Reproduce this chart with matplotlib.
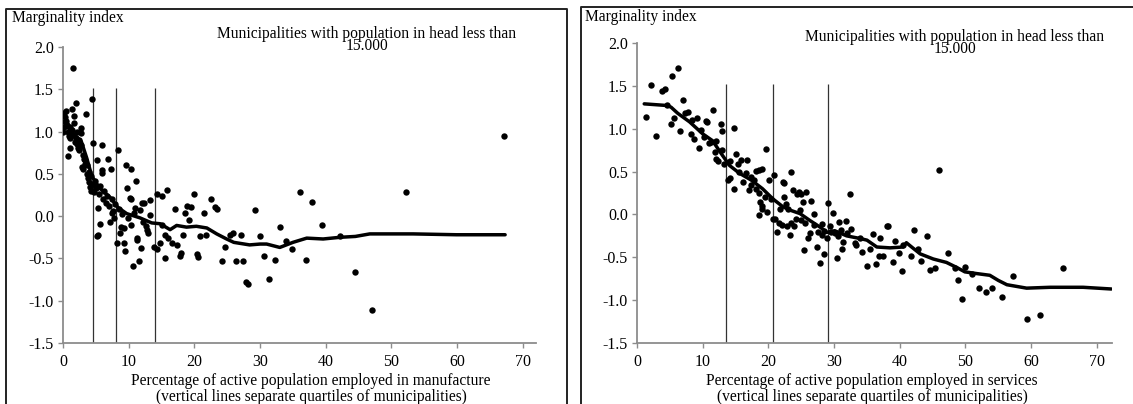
import matplotlib
matplotlib.use('Agg')
import matplotlib.pyplot as plt
from matplotlib.lines import Line2D

plt.rcParams['font.family'] = ['Liberation Serif', 'DejaVu Serif']

# ---- data: manufacture panel ----
manuf_x = [0.0, 0.2, 0.3, 0.4, 0.5, 0.2, 0.6, 0.7, 0.8, 0.9, 1.0, 1.0, 1.1, 1.3, 1.4, 1.5, 1.5, 1.6, 1.7, 1.8,
           2.0, 2.0, 2.1, 2.2, 2.3, 2.4, 2.5, 2.7, 2.8, 2.8, 2.9, 3.0, 3.1, 3.2, 3.3, 3.4, 3.5, 3.6, 3.7, 3.8,
           3.9, 4.0, 4.1, 4.2, 4.3, 4.4, 4.5, 4.6, 4.7, 4.8, 5.0, 5.1, 5.2, 5.3, 5.4, 5.5, 5.6, 5.7, 5.9, 5.9,
           6.0, 6.1, 6.3, 6.5, 6.7, 6.9, 7.0, 7.2, 7.3, 7.4, 7.5, 7.6, 7.7, 7.9, 8.2, 8.4, 8.5, 8.7, 8.8, 9.0,
           9.3, 9.3, 9.4, 9.6, 9.8, 9.9, 10.2, 10.3, 10.3, 10.4, 10.6, 10.8, 11.0, 11.1, 11.2, 11.5, 11.3, 11.7,
           11.8, 12.0, 12.2, 12.3, 12.7, 12.8, 12.9, 13.2, 13.3, 13.8, 14.3, 14.3, 14.7, 15.0, 15.0, 15.5, 15.6,
           15.9, 16.0, 16.6, 17.0, 17.3, 17.8, 18.0, 18.3, 18.6, 18.9, 19.2, 19.5, 20.0, 20.4, 20.6, 20.9, 21.4,
           21.8, 22.5, 23.1, 23.4, 24.2, 24.7, 25.4, 25.9, 26.4, 27.1, 27.4, 27.9, 28.2, 29.2, 30.0, 30.6, 31.4,
           32.3, 33.0, 33.9, 34.9, 36.1, 37.0, 37.9, 39.5, 42.1, 44.4, 47.0, 52.2, 67.2]
manuf_y = [1.0, 1.22, 1.17, 1.24, 1.13, 1.05, 1.08, 1.0, 0.71, 0.95, 0.81, 1.05, 0.92, 1.02, 1.27, 1.75, 0.96, 1.1,
           1.18, 0.88, 1.34, 0.92, 0.85, 1.0, 0.8, 0.9, 0.78, 1.04, 0.98, 0.84, 0.58, 0.72, 0.56, 0.68, 0.66, 0.62,
           1.21, 0.5, 0.6, 0.45, 0.52, 0.4, 0.34, 0.47, 0.3, 1.38, 0.86, 0.38, 0.28, 0.42, 0.33, -0.23, 0.66, -0.22,
           0.1, 0.26, -0.09, 0.36, 0.84, 0.55, 0.51, 0.2, 0.3, 0.16, 0.24, 0.68, 0.12, -0.07, 0.56, 0.04, 0.2, 0.06,
           -0.02, 0.14, -0.32, 0.78, 0.08, -0.2, -0.13, 0.02, -0.14, -0.32, -0.41, 0.61, 0.33, -0.02, 0.22, 0.56,
           -0.11, 0.2, -0.59, 0.04, 0.1, 0.41, -0.26, -0.53, -0.28, 0.07, -0.38, 0.16, -0.07, 0.15, -0.12, -0.16,
           -0.2, 0.19, 0.01, -0.37, 0.26, -0.39, -0.32, 0.24, -0.1, -0.49, -0.22, 0.31, -0.26, -0.32, 0.08, -0.34,
           -0.47, -0.43, -0.22, 0.04, 0.12, -0.05, 0.11, 0.26, -0.45, -0.48, -0.24, 0.04, -0.22, 0.2, 0.11, 0.09,
           -0.53, -0.37, -0.22, -0.2, -0.53, -0.22, -0.53, -0.78, -0.8, 0.07, -0.23, -0.47, -0.74, -0.52, -0.13,
           -0.29, -0.39, 0.28, -0.52, 0.17, -0.11, -0.24, -0.66, -1.11, 0.29, 0.95]
manuf_fit_x = [0, 1.5, 2.8, 3.6, 4.4, 5.6, 7.2, 8.4, 9.7, 11.7, 13.5, 14.8, 16.3, 17.3, 18.8, 20.3, 21.9, 23.4,
               24.9, 26.0, 28.4, 30.0, 31.0, 33.0, 35.0, 37.1, 39.6, 42.2, 44.5, 46.7, 53.3, 59.9, 67.3]
manuf_fit_y = [1.12, 0.98, 0.88, 0.69, 0.47, 0.33, 0.22, 0.1, 0.03, -0.02, -0.08, -0.09, -0.16, -0.11, -0.13,
               -0.12, -0.14, -0.21, -0.27, -0.31, -0.34, -0.33, -0.33, -0.37, -0.31, -0.26, -0.27, -0.25, -0.24,
               -0.21, -0.21, -0.22, -0.22]
manuf_quartiles = [4.6, 8.1, 14.0]

# ---- data: services panel ----
serv_x = [1.4, 2.2, 2.9, 3.8, 4.3, 4.5, 5.2, 5.4, 5.7, 6.3, 6.6, 7.0, 7.3, 7.7, 8.2, 8.4, 8.7, 9.2, 9.5, 9.8,
          10.2, 10.5, 10.6, 10.9, 11.3, 11.6, 11.8, 12.0, 12.1, 12.3, 12.8, 12.9, 13.0, 13.3, 13.8, 14.1, 14.2,
          14.7, 14.8, 15.1, 15.3, 15.5, 15.8, 16.2, 16.6, 16.8, 17.0, 17.3, 17.4, 17.8, 18.1, 18.1, 18.6, 18.6,
          18.5, 18.7, 19.0, 19.1, 19.1, 19.5, 19.7, 19.8, 20.1, 20.4, 20.7, 20.9, 21.0, 21.3, 21.6, 21.8, 22.0,
          22.2, 22.3, 22.4, 22.7, 22.8, 23.0, 23.3, 23.4, 23.5, 23.7, 23.9, 24.2, 24.4, 24.6, 24.8, 25.0, 25.0,
          25.3, 25.4, 25.6, 25.7, 26.0, 26.3, 26.5, 26.9, 27.0, 27.4, 27.5, 27.8, 28.1, 28.2, 28.4, 28.5, 28.9,
          29.0, 29.4, 29.6, 29.9, 30.2, 30.4, 30.6, 30.7, 31.0, 31.2, 31.4, 31.8, 32.0, 32.4, 32.5, 33.2, 33.3,
          33.9, 34.2, 35.0, 35.4, 35.9, 36.4, 36.8, 37.0, 37.4, 38.0, 38.2, 38.9, 39.3, 39.9, 40.4, 40.5, 41.7,
          42.1, 42.7, 43.3, 44.1, 44.6, 45.4, 46.0, 47.3, 48.4, 48.8, 49.4, 49.9, 51.0, 52.1, 53.1, 54.1, 55.6,
          57.3, 59.3, 61.3, 64.9]
serv_y = [1.14, 1.51, 0.91, 1.44, 1.46, 1.28, 1.05, 1.61, 1.12, 1.71, 0.97, 1.34, 1.18, 1.2, 0.94, 1.1, 0.88,
          1.13, 0.77, 0.98, 0.9, 1.09, 1.08, 0.83, 0.85, 1.22, 0.73, 0.65, 0.86, 0.62, 1.06, 0.97, 0.75, 0.59, 0.4,
          0.43, 0.62, 1.01, 0.3, 0.7, 0.59, 0.5, 0.64, 0.38, 0.48, 0.63, 0.28, 0.34, 0.44, 0.4, 0.51, 0.3, 0.52,
          0.25, -0.01, 0.15, 0.06, 0.53, 0.1, 0.2, 0.76, 0.03, 0.4, 0.18, -0.05, 0.46, -0.05, -0.2, -0.1, 0.06,
          -0.12, 0.38, 0.37, 0.2, 0.12, -0.14, 0.06, -0.24, 0.49, -0.1, 0.28, -0.13, -0.05, 0.24, 0.26, 0.05, 0.24,
          -0.06, 0.15, -0.41, -0.1, 0.26, -0.27, -0.22, 0.16, 0.0, -0.12, -0.38, -0.2, -0.57, -0.11, -0.24, -0.46,
          -0.19, -0.27, 0.13, -0.13, -0.2, 0.02, -0.22, -0.51, -0.25, -0.09, -0.18, -0.4, -0.32, -0.08, -0.22, 0.24,
          -0.17, -0.33, -0.36, -0.28, -0.44, -0.6, -0.4, -0.23, -0.58, -0.49, -0.28, -0.48, -0.13, -0.13, -0.56,
          -0.31, -0.45, -0.66, -0.36, -0.49, -0.18, -0.4, -0.54, -0.25, -0.65, -0.62, 0.52, -0.45, -0.62, -0.76,
          -0.99, -0.61, -0.7, -0.86, -0.9, -0.86, -0.96, -0.72, -1.22, -1.17, -0.63]
serv_fit_x = [1.1, 2.9, 4.7, 5.2, 6.2, 8.0, 10.0, 11.5, 13.0, 14.1, 15.6, 17.4, 19.1, 20.7, 22.2, 23.3, 24.8,
              26.3, 27.9, 28.9, 30.1, 31.9, 33.9, 35.0, 36.5, 38.5, 40.5, 41.0, 41.8, 43.1, 45.1, 47.1, 48.7,
              49.9, 51.7, 53.7, 55.0, 56.3, 59.3, 62.9, 67.9, 72.2]
serv_fit_y = [1.29, 1.28, 1.27, 1.25, 1.18, 1.08, 0.94, 0.86, 0.69, 0.57, 0.48, 0.4, 0.3, 0.18, 0.09, 0.05, 0.01,
              -0.07, -0.15, -0.21, -0.19, -0.25, -0.28, -0.3, -0.38, -0.39, -0.38, -0.33, -0.38, -0.46, -0.52,
              -0.56, -0.62, -0.67, -0.69, -0.71, -0.77, -0.82, -0.86, -0.85, -0.85, -0.87]
serv_quartiles = [13.6, 20.7, 29.1]

yticks = [-1.5, -1.0, -0.5, 0.0, 0.5, 1.0, 1.5, 2.0]
xticks = [0, 10, 20, 30, 40, 50, 60, 70]

W, H = 1133, 404
FS = 11.2
fig = plt.figure(figsize=(W / 100, H / 100), dpi=100)


def px(x, y):
    return x / W, 1 - y / H


def panel(rect, xs, ys, fx, fy, qs, xmax):
    ax = fig.add_axes(rect)
    ax.plot(xs, ys, 'o', color='black', ms=4.6, mec='none', zorder=3)
    ax.plot(fx, fy, color='black', lw=2.5, solid_capstyle='round', zorder=4)
    ax.vlines(qs, -1.5, 1.52, color='#333333', lw=0.9, zorder=2)
    ax.set_xlim(0, xmax)
    ax.set_ylim(-1.5, 2.0)
    ax.set_xticks(xticks)
    ax.set_yticks(yticks)
    ax.set_yticklabels([f'{v:.1f}' for v in yticks])
    for s in ['top', 'right']:
        ax.spines[s].set_visible(False)
    for s in ['left', 'bottom']:
        ax.spines[s].set_color('#8c8c8c')
        ax.spines[s].set_linewidth(1.3)
    ax.tick_params(colors='#8c8c8c', labelcolor='black', labelsize=11.5, length=3.5, width=1)
    ax.tick_params(axis='x', pad=4.5)
    ax.tick_params(axis='y', pad=3)
    ax.patch.set_visible(False)
    return ax


panel([63 / W, 1 - 343 / H, 473 / W, 296 / H], manuf_x, manuf_y, manuf_fit_x, manuf_fit_y,
      manuf_quartiles, 72)
panel([637 / W, 1 - 343 / H, 475 / W, 300 / H], serv_x, serv_y, serv_fit_x, serv_fit_y,
      serv_quartiles, 72.3)

# frames around each panel
frame_kw = dict(color='#222222', lw=1.4, transform=fig.transFigure)
for xs, ys in [([6, 6, 567, 567], [404, 9, 9, 404]), ([581, 581, 1133], [404, 7, 7])]:
    fx, fy = zip(*[px(a, b) for a, b in zip(xs, ys)])
    fig.add_artist(Line2D(fx, fy, **frame_kw))

# texts
tkw = dict(fontsize=FS, color='black')
fig.text(*px(12, 18), 'Marginality index', ha='left', va='center', **tkw)
fig.text(*px(585, 17), 'Marginality index', ha='left', va='center', **tkw)
fig.text(*px(367, 40), 'Municipalities with population in head less than\n15.000',
         ha='center', va='center', linespacing=0.72, **tkw)
fig.text(*px(955, 43), 'Municipalities with population in head less than\n15.000',
         ha='center', va='center', linespacing=0.72, **tkw)
fig.text(*px(311, 389), 'Percentage of active population employed in manufacture\n'
         '(vertical lines separate quartiles of municipalities)',
         ha='center', va='center', linespacing=0.92, **tkw)
fig.text(*px(872, 389), 'Percentage of active population employed in services\n'
         '(vertical lines separate quartiles of municipalities)',
         ha='center', va='center', linespacing=0.92, **tkw)

fig.savefig('out.png', dpi=100)
